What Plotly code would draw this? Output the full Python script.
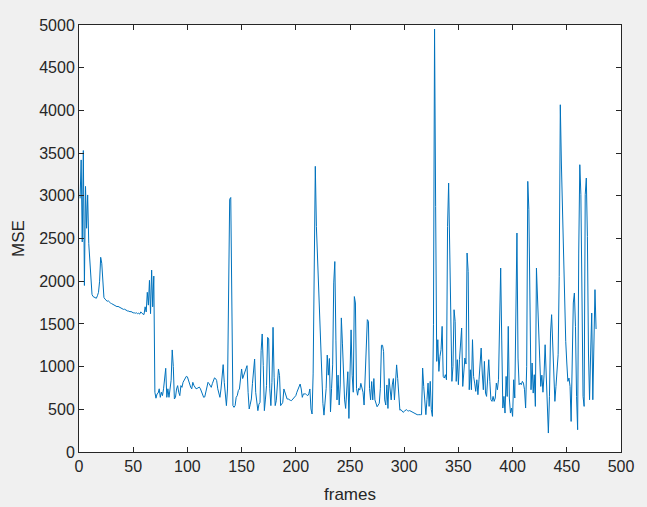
import numpy as np
import plotly.graph_objects as go

# MSE per frame (frames 1..476)
mse_start = [2970, 3420, 2460, 3530, 1950, 3110, 2620, 3010, 2440, 2190,
             1990, 1845, 1820, 1815, 1810, 1800, 1830, 1870, 2000, 2280,
             2210, 1990, 1810, 1790, 1780, 1765, 1770, 1752, 1745, 1738,
             1730, 1722, 1715, 1710, 1702, 1705, 1696, 1690, 1683, 1676,
             1670, 1672, 1662, 1655, 1650, 1650, 1642, 1645, 1636, 1630,
             1630, 1625, 1630, 1620, 1625, 1615, 1640, 1620, 1615, 1610,
             1700, 1640, 1870, 1720, 2010, 1620, 2130, 1700, 2060]

mse_low1 = [700, 630, 680, 690, 740, 640, 700, 660, 740, 840,
            980, 640, 740, 640, 760, 840, 1195, 1000, 621, 640,
            738, 777, 700, 660, 777, 757, 816, 836, 855, 886,
            880, 836, 790, 760, 740, 816, 780, 760, 740, 745,
            757, 760, 740, 700, 660, 640, 645, 700, 760, 816,
            800, 780, 757, 800, 840, 868, 860, 836, 740, 700,
            640, 738, 900, 1023, 816, 620, 543, 738, 2110, 2960,
            2980, 1820]

mse_mid1 = [543, 523, 543, 640, 660, 720, 738, 855, 972, 860,
            900, 953, 980, 1011, 699, 504, 560, 621, 800, 914,
            1089, 699, 540, 484, 560, 582, 1186, 1382, 1011, 484,
            620, 777, 1342, 1323, 740, 543, 816, 1460, 875, 543,
            601, 800, 972, 894, 543, 560, 582, 738, 700, 660,
            620, 621, 610, 605, 601, 615, 621, 640, 660, 700,
            738, 777, 796, 738, 640, 680, 680, 680, 670, 660,
            680, 738, 504, 445, 914]

mse_mid2 = [2140, 3345, 2640, 2290, 1960, 1550, 1200, 845, 570, 432,
            550, 745, 1135, 900, 1095, 470, 745, 1020, 1980, 2230,
            1310, 610, 900, 550, 785, 1570, 1275, 940, 610, 510,
            825, 940, 393, 860, 1430, 900, 700, 1820, 1745, 745,
            665, 745, 725, 804, 745, 700, 550, 860, 1175, 1550,
            1530, 745, 610, 825, 610, 860, 610, 550, 530, 550,
            570, 745, 1250, 1250, 1175, 610, 550, 785, 510, 860,
            700, 610, 785, 860, 610, 900, 1020, 860, 610, 490]

mse_flat = [496, 480, 464, 476, 485, 496, 485, 480, 485, 478,
            470, 456, 450, 447, 440, 437, 437, 440, 437, 437]

mse_end = [983, 768, 534, 437, 612, 807, 534, 827, 495, 417,
           1490, 4953, 2876, 1061, 1315, 944, 1120, 1198, 1471, 885,
           866, 905, 846, 2642, 3149, 2212, 1217, 827, 1003, 1666,
           1530, 827, 1081, 788, 1081, 1296, 1452, 768, 983, 1100,
           1030, 2330, 2115, 729, 963, 729, 1315, 885, 807, 710,
           846, 671, 846, 1100, 1217, 925, 729, 1061, 690, 651,
           846, 1081, 827, 612, 593, 651, 593, 632, 807, 729,
           846, 1588, 2154, 1300, 515, 651, 456, 885, 650, 1471,
           632, 456, 515, 417, 846, 632, 1979, 2564, 1100, 788,
           807, 788, 827, 807, 729, 515, 1003, 3169, 2837, 1276,
           729, 1042, 690, 905, 534, 2154, 1860, 1400, 1100, 768,
           900, 700, 900, 1256, 900, 417, 222, 651, 1393, 1608,
           1250, 900, 593, 768, 1003, 1139, 2056, 4066, 3384, 2759,
           2212, 1706, 1296, 1042, 827, 866, 768, 358, 1198, 1745,
           1862, 1471, 651, 261, 2330, 3364, 3013, 1979, 651, 534,
           3013, 3208, 2525, 1159, 612, 1159, 1627, 612, 1178, 1901,
           1440]

mse = mse_start + mse_low1 + mse_mid1 + mse_mid2 + mse_flat + mse_end
frames = np.arange(1, len(mse) + 1)

x_ticks = [0, 50, 100, 150, 200, 250, 300, 350, 400, 450, 500]
y_ticks = [0, 500, 1000, 1500, 2000, 2500, 3000, 3500, 4000, 4500, 5000]

font_family = "Liberation Sans, Arial, sans-serif"
axis_color = "#262626"

fig = go.Figure()
fig.add_trace(go.Scatter(x=frames, y=mse, mode="lines",
                         line=dict(color="#0072BD", width=1),
                         showlegend=False, hoverinfo="skip"))

common = dict(showgrid=False, zeroline=False, showline=True, linecolor=axis_color,
              linewidth=1, mirror="allticks", ticks="inside", ticklen=5,
              tickcolor=axis_color, tickwidth=1,
              tickfont=dict(family=font_family, size=16, color=axis_color))

fig.update_xaxes(range=[0, 500], tickvals=x_ticks, ticktext=[str(v) for v in x_ticks],
                 title=dict(text="frames", font=dict(family=font_family, size=17, color=axis_color),
                            standoff=13),
                 **common)
fig.update_yaxes(range=[0, 5000], tickvals=y_ticks, ticktext=[str(v) for v in y_ticks],
                 title=dict(text="MSE", font=dict(family=font_family, size=17, color=axis_color),
                            standoff=10),
                 **common)

fig.update_layout(width=647, height=507,
                  margin=dict(l=79, r=26, t=25, b=55, autoexpand=False),
                  paper_bgcolor="#f0f0f0", plot_bgcolor="#ffffff")

fig.write_html("out.html", config={"displayModeBar": False},
               post_script="document.body.style.margin='0';"
                           "document.body.style.background='#f0f0f0';")
